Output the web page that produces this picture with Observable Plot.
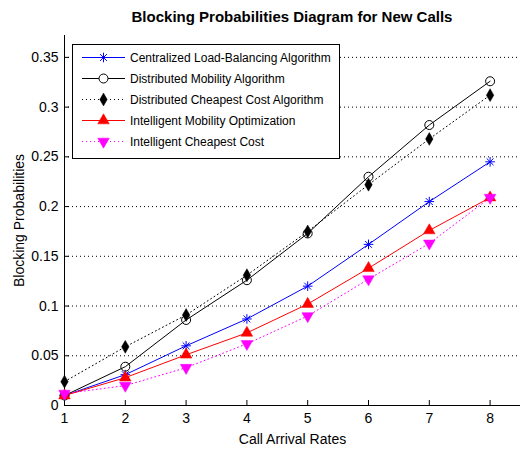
<!DOCTYPE html>
<html><head><meta charset="utf-8">
<script src="https://cdn.jsdelivr.net/npm/d3@7"></script>
<script src="https://cdn.jsdelivr.net/npm/@observablehq/plot@0.6"></script>
<style>
body{margin:0;background:#fff;font-family:"Liberation Sans",Arial,sans-serif;}
#wrap{position:relative;width:520px;height:450px;overflow:hidden;}
#title{height:30px;line-height:34px;text-align:center;font-weight:bold;font-size:15px;padding-left:64px;color:#000;white-space:nowrap;}
#legend{position:absolute;left:72px;top:44px;width:266px;height:111px;border:1px solid #000;background:#fff;padding-top:2px;box-sizing:content-box;}
.row{height:21px;display:flex;align-items:center;font-size:12px;color:#000;white-space:nowrap;}
.row svg{flex:none;}
</style></head>
<body>
<div id="wrap">
  <div id="title">Blocking Probabilities Diagram for New Calls</div>
  <div id="chart"></div>
  <div id="legend"></div>
</div>
<script>
const xs = [1, 2, 3, 4, 5, 6, 7, 8];
const xTicks = [1, 2, 3, 4, 5, 6, 7, 8];
const yTicks = [0, 0.05, 0.1, 0.15, 0.2, 0.25, 0.3, 0.35];
const seriesNames = [
  "Centralized Load-Balancing Algorithm",
  "Distributed Mobility Algorithm",
  "Distributed Cheapest Cost Algorithm",
  "Intelligent Mobility Optimization",
  "Intelligent Cheapest Cost"
];
const centralized  = [0.010, 0.031, 0.060, 0.087, 0.120, 0.162, 0.205, 0.245];
const distMobility = [0.010, 0.039, 0.086, 0.126, 0.173, 0.230, 0.282, 0.326];
const distCheapest = [0.024, 0.059, 0.091, 0.131, 0.175, 0.222, 0.268, 0.312];
const intMobility  = [0.010, 0.028, 0.051, 0.073, 0.102, 0.138, 0.176, 0.209];
const intCheapest  = [0.012, 0.020, 0.038, 0.062, 0.090, 0.127, 0.163, 0.209];

const rows = vals => xs.map((x, i) => ({x, y: vals[i]}));
const dC = rows(centralized), dM = rows(distMobility), dD = rows(distCheapest),
      dI = rows(intMobility), dK = rows(intCheapest);

const BLUE = "#0000ff", RED = "#ff0000", MAG = "#ff00ff";
const DOT = "1,3";

const chart = Plot.plot({
  width: 520, height: 420,
  marginTop: 5, marginBottom: 45, marginLeft: 64, marginRight: 0,
  style: {fontFamily: "'Liberation Sans', Arial, sans-serif", fontSize: "14px", color: "black", background: "white", overflow: "visible"},
  x: {domain: [1, 8.5]},
  y: {domain: [0, 0.372]},
  marks: [
    Plot.ruleY(yTicks.filter(d => d > 0), {y: d => d, stroke: "black", strokeDasharray: DOT, strokeWidth: 1}),
    Plot.axisX({ticks: xTicks, tickFormat: d => String(d), tickSize: 0, tickPadding: 8, label: "Call Arrival Rates", labelAnchor: "center", labelArrow: "none", labelOffset: 38}),
    Plot.axisY({ticks: yTicks, tickFormat: d => String(d), tickSize: 0, tickPadding: 6, label: "Blocking Probabilities", labelAnchor: "center", labelArrow: "none", labelOffset: 50}),
    Plot.tickX(xTicks, {x: d => d, insetTop: 365, stroke: "black"}),
    Plot.tickY(yTicks, {y: d => d, insetRight: 451, stroke: "black"}),
    Plot.ruleY([0], {stroke: "black"}),
    Plot.ruleX([1], {stroke: "black"}),
    // series 1: blue asterisk
    Plot.line(dC, {x: "x", y: "y", stroke: BLUE, strokeWidth: 1}),
    Plot.dot(dC, {x: "x", y: "y", symbol: "plus", stroke: BLUE, r: 3.2, strokeWidth: 1}),
    Plot.dot(dC, {x: "x", y: "y", symbol: "times", stroke: BLUE, r: 3.2, strokeWidth: 1}),
    // series 2: black circle
    Plot.line(dM, {x: "x", y: "y", stroke: "black", strokeWidth: 1}),
    Plot.dot(dM, {x: "x", y: "y", symbol: "circle", stroke: "black", fill: "none", r: 4.5, strokeWidth: 1}),
    // series 3: black dotted diamond
    Plot.line(dD, {x: "x", y: "y", stroke: "black", strokeWidth: 1, strokeDasharray: DOT}),
    Plot.dot(dD, {x: "x", y: "y", symbol: "diamond", fill: "black", stroke: "black", r: 3.9, strokeWidth: 0.5}),
    // series 4: red triangle
    Plot.line(dI, {x: "x", y: "y", stroke: RED, strokeWidth: 1}),
    Plot.dot(dI, {x: "x", y: "y", symbol: "triangle", fill: RED, stroke: RED, r: 4.3, strokeWidth: 0.5}),
    // series 5: magenta dotted down triangle
    Plot.line(dK, {x: "x", y: "y", stroke: MAG, strokeWidth: 1, strokeDasharray: DOT}),
    Plot.dot(dK, {x: "x", y: "y", symbol: "triangle", rotate: 180, fill: MAG, stroke: MAG, r: 4.3, strokeWidth: 0.5})
  ]
});
document.getElementById("chart").appendChild(chart);

// legend
const legendSpecs = [
  {color: BLUE, dash: null, marker: "asterisk"},
  {color: "black", dash: null, marker: "circle"},
  {color: "black", dash: DOT, marker: "diamond"},
  {color: RED, dash: null, marker: "up"},
  {color: MAG, dash: DOT, marker: "down"}
];
const legend = d3.select("#legend");
seriesNames.forEach((name, i) => {
  const s = legendSpecs[i];
  const row = legend.append("div").attr("class", "row");
  const svg = row.append("svg").attr("width", 57).attr("height", 21);
  const cy = 10.5, cx = 30.5;
  svg.append("line").attr("x1", 9).attr("x2", 52).attr("y1", cy).attr("y2", cy)
    .attr("stroke", s.color).attr("stroke-width", 1).attr("stroke-dasharray", s.dash);
  const g = svg.append("g").attr("transform", `translate(${cx},${cy})`);
  const sz = r => Math.PI * r * r;
  if (s.marker === "asterisk") {
    g.append("path").attr("d", d3.symbol(d3.symbolPlus, sz(3.2))()).attr("stroke", s.color).attr("fill", "none");
    g.append("path").attr("d", d3.symbol(d3.symbolTimes, sz(3.2))()).attr("stroke", s.color).attr("fill", "none");
  } else if (s.marker === "circle") {
    g.append("circle").attr("r", 4.5).attr("stroke", "black").attr("fill", "white");
  } else if (s.marker === "diamond") {
    g.append("path").attr("d", d3.symbol(d3.symbolDiamond, sz(3.9))()).attr("fill", "black").attr("stroke", "black").attr("stroke-width", 0.5);
  } else if (s.marker === "up") {
    g.append("path").attr("d", d3.symbol(d3.symbolTriangle, sz(4.3))()).attr("fill", s.color).attr("stroke", s.color).attr("stroke-width", 0.5);
  } else {
    g.append("path").attr("transform", "rotate(180)").attr("d", d3.symbol(d3.symbolTriangle, sz(4.3))()).attr("fill", s.color).attr("stroke", s.color).attr("stroke-width", 0.5);
  }
  row.append("span").text(name);
});
</script>
</body></html>
